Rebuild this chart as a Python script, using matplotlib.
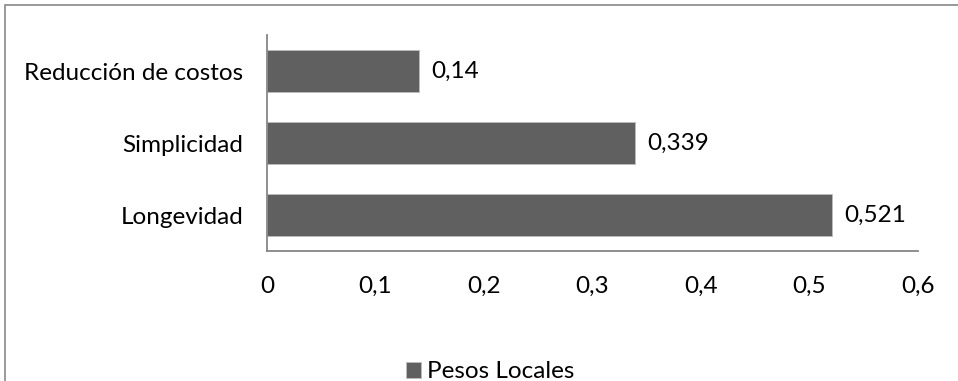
import matplotlib
matplotlib.use("Agg")
import matplotlib.pyplot as plt
from matplotlib.patches import Rectangle
from matplotlib.ticker import FuncFormatter

categories = ["Longevidad", "Simplicidad", "Reducción de costos"]
values = [0.521, 0.339, 0.14]
value_labels = ["0,521", "0,339", "0,14"]
series_name = "Pesos Locales"
xticks = [0, 0.1, 0.2, 0.3, 0.4, 0.5, 0.6]

plt.rcParams['font.family'] = ['Lato', 'DejaVu Sans']
bar_color = "#606060"
axis_color = "#868686"
fs = 17.5

fig = plt.figure(figsize=(9.58, 3.81), dpi=100)
fig.patches.append(Rectangle((5/958, -0.1), 1.2, 1 - 5/381 + 0.1, transform=fig.transFigure,
                             fill=False, edgecolor="#888888", linewidth=1.2))
ax = fig.add_axes([267/958, 1 - 251/381, (918 - 267)/958, (251 - 35)/381])

bars = ax.barh(range(len(categories)), values, height=0.57, color=bar_color,
               edgecolor="#bdbdbd", linewidth=0.6, label=series_name)
for b, lab in zip(bars, value_labels):
    ax.annotate(lab, (b.get_width(), b.get_y() + b.get_height()/2),
                xytext=(12, 0), textcoords="offset pixels",
                va="center", ha="left", fontsize=fs)

ax.set_xlim(0, 0.6)
ax.set_ylim(-0.5, 2.5)
ax.set_yticks(range(len(categories)))
ax.set_yticklabels(categories, fontsize=fs)
ax.set_xticks(xticks)
ax.xaxis.set_major_formatter(FuncFormatter(lambda v, p: ("%g" % v).replace(".", ",")))
ax.tick_params(axis="x", labelsize=fs, length=0, pad=18)
ax.tick_params(axis="y", length=0, pad=17)
for s in ["top", "right"]:
    ax.spines[s].set_visible(False)
for s in ["left", "bottom"]:
    ax.spines[s].set_color(axis_color)
    ax.spines[s].set_linewidth(1.3)

fig.legend(handles=[bars], labels=[series_name], loc="center", bbox_to_anchor=(0.512, 1 - 372/381),
           frameon=False, fontsize=fs, handlelength=0.6, handleheight=0.6, handletextpad=0.25)

fig.savefig("out.png", dpi=100)
